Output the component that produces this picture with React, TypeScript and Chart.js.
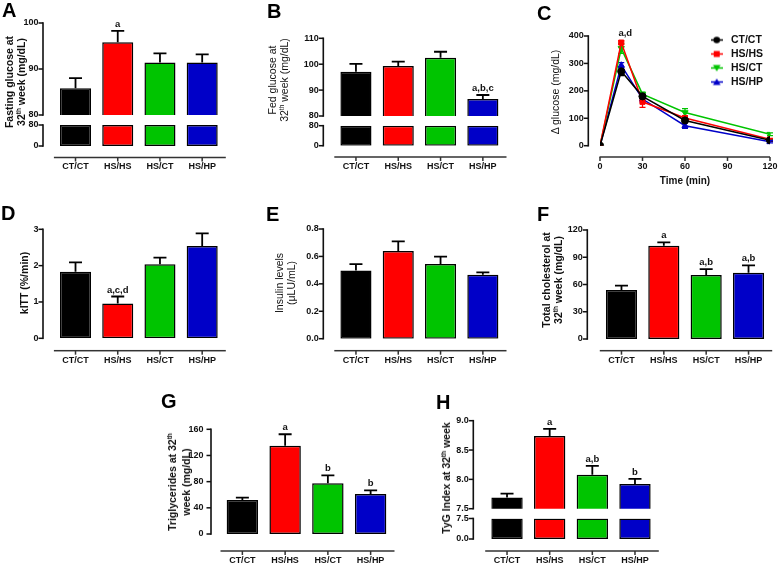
import React, { useEffect, useRef } from 'react';
import { Chart, registerables } from 'chart.js';

Chart.register(...registerables);

const FONT = '"Liberation Sans", Arial, Helvetica, sans-serif';
const INK = '#111111';

// ---------- data ----------
const categories = ['CT/CT', 'HS/HS', 'HS/CT', 'HS/HP'];
const groupColors = ['#000000', '#ff0000', '#00c400', '#0000c8'];

// A – fasting glucose
const fastingGlucose = [85.8, 95.8, 91.4, 91.4];
const fastingGlucoseSem = [2.2, 2.5, 2.0, 1.8];
const fastingGlucoseSig = ['', 'a', '', ''];
const fastingBrokenTicks = [0, 80];

// B – fed glucose
const fedGlucose = [97.1, 99.3, 102.5, 86.6];
const fedGlucoseSem = [3.0, 1.7, 2.3, 1.5];
const fedGlucoseSig = ['', '', '', 'a,b,c'];
const fedBrokenTicks = [0, 80];

// C – glucose tolerance curve
const ogttTimes = [0, 15, 30, 60, 120];
const ogttCTCT = [0, 271, 180, 92, 20];
const ogttCTCTSem = [0, 15, 8, 8, 4];
const ogttHSHS = [0, 376, 160, 101, 23];
const ogttHSHSSem = [0, 6, 20, 8, 4];
const ogttHSCT = [0, 355, 188, 121, 42];
const ogttHSCTSem = [0, 18, 7, 14, 5];
const ogttHSHP = [0, 293, 170, 73, 14];
const ogttHSHPSem = [0, 10, 10, 10, 4];
const ogttSig = 'a,d';

// D – kITT
const kitt = [1.83, 0.96, 2.04, 2.54];
const kittSem = [0.26, 0.19, 0.18, 0.35];
const kittSig = ['', 'a,c,d', '', ''];

// E – insulin
const insulin = [0.498, 0.639, 0.544, 0.466];
const insulinSem = [0.046, 0.071, 0.054, 0.017];
const insulinSig = ['', '', '', ''];

// F – total cholesterol
const cholesterol = [53.9, 102.7, 70.5, 73.0];
const cholesterolSem = [4.8, 3.7, 6.5, 8.0];
const cholesterolSig = ['', 'a', 'a,b', 'a,b'];

// G – triglycerides
const triglycerides = [52, 135, 77.5, 61];
const triglyceridesSem = [3.5, 17.4, 12.2, 5.8];
const triglyceridesSig = ['', 'a', 'b', 'b'];

// H – TyG index
const tyg = [7.69, 8.74, 8.08, 7.92];
const tygSem = [0.066, 0.12, 0.15, 0.09];
const tygSig = ['', 'a', 'a,b', 'b'];
const tygBrokenTicks = [0, 7.5];

// ---------- geometry ----------
const W = 50; // fixed y-axis box width
const T = 26; // top padding
const R = 26; // right padding
const X_H = 32; // x axis box height
const NOX_B = 26; // bottom padding when no x axis

type Area = { l: number; t: number; r: number; b: number };

function layoutFor(area: Area, xH: number, bPad: number) {
  const left = Math.floor(area.l - W);
  const top = Math.floor(area.t - T);
  const right = Math.ceil(area.r + R);
  const bottom = Math.ceil(area.b + xH + bPad);
  return {
    left,
    top,
    width: right - left,
    height: bottom - top,
    padding: {
      left: area.l - W - left,
      top: area.t - top,
      right: right - area.r,
      bottom: bottom - area.b - xH,
    },
  };
}

// ---------- plugin factory: Prism-style axes, error bars, letters ----------
type PrismSettings = {
  yGap: number;
  xGap?: number;
  xLine?: boolean;
  xExtend?: number;
  errors?: number[];
  sig?: string[];
  lineErrors?: number[][];
  notes?: { x: number; y: number; text: string; dx?: number }[];
  legendAt?: { dx: number; dy: number };
};

function makePrism(s: PrismSettings): any {
  return {
    id: 'prism',
    afterLayout(chart: any) {
      if (s.legendAt && chart.legend) {
        const lg = chart.legend;
        const ca = chart.chartArea;
        const w = lg.width;
        const h = lg.height;
        lg.left = ca.left + s.legendAt.dx;
        lg.right = lg.left + w;
        lg.top = ca.top + s.legendAt.dy;
        lg.bottom = lg.top + h;
      }
    },
    beforeDatasetsDraw(chart: any) {
      if (!s.lineErrors) return;
      const { ctx } = chart;
      const y = chart.scales.y;
      ctx.save();
      chart.data.datasets.forEach((ds: any, di: number) => {
        const meta = chart.getDatasetMeta(di);
        const errs = (s.lineErrors as number[][])[di];
        ctx.strokeStyle = ds.borderColor;
        ctx.lineWidth = 1.3;
        meta.data.forEach((pt: any, j: number) => {
          const e = errs[j];
          if (!e) return;
          const v = ds.data[j].y;
          const p1 = y.getPixelForValue(v + e);
          const p2 = y.getPixelForValue(v - e);
          ctx.beginPath();
          ctx.moveTo(pt.x, p1);
          ctx.lineTo(pt.x, p2);
          ctx.moveTo(pt.x - 3, p1);
          ctx.lineTo(pt.x + 3, p1);
          ctx.moveTo(pt.x - 3, p2);
          ctx.lineTo(pt.x + 3, p2);
          ctx.stroke();
        });
      });
      ctx.restore();
    },
    afterDraw(chart: any) {
      const { ctx, chartArea: ca } = chart;
      const x = chart.scales.x;
      const y = chart.scales.y;
      ctx.save();

      // y axis line + tick marks, offset left of the plot
      const ax = ca.left - s.yGap;
      ctx.fillStyle = '#111';
      ctx.fillRect(ax - 0.8, ca.top - 0.8, 1.6, ca.bottom - ca.top + 1.6);
      y.ticks.forEach((t: any) => {
        const py = y.getPixelForValue(t.value);
        ctx.fillRect(ax - 4.5, py - 0.75, 4.5, 1.5);
      });

      // detached x axis line + tick marks
      if (s.xLine) {
        const ly = ca.bottom + (s.xGap ?? 12);
        ctx.fillStyle = '#333';
        const x0 = ca.left - 0.5;
        const x1 = ca.right + (s.xExtend ?? 2.5);
        ctx.fillRect(x0, ly - 0.75, x1 - x0, 1.5);
        x.ticks.forEach((_t: any, i: number) => {
          const px = x.getPixelForTick(i);
          ctx.fillRect(px - 0.75, ly, 1.5, 4);
        });
      }

      ctx.font = `bold 9.5px ${FONT}`;
      ctx.fillStyle = INK;
      ctx.textAlign = 'center';
      ctx.textBaseline = 'alphabetic';

      if (s.errors) {
        const vals = chart.data.datasets[0].data as number[];
        const errs = s.errors;
        ctx.strokeStyle = '#000';
        ctx.lineWidth = 1.8;
        vals.forEach((v: number, i: number) => {
          const e = errs[i];
          const px = x.getPixelForValue(i);
          const p0 = y.getPixelForValue(v);
          const p1 = y.getPixelForValue(v + e);
          ctx.beginPath();
          ctx.moveTo(px, p0);
          ctx.lineTo(px, p1);
          ctx.moveTo(px - 6.5, p1);
          ctx.lineTo(px + 6.5, p1);
          ctx.stroke();
          const lab = s.sig && s.sig[i];
          if (lab) ctx.fillText(lab, px, p1 - 4);
        });
      }
      if (s.notes) {
        s.notes.forEach((n) => {
          ctx.fillText(n.text, x.getPixelForValue(n.x) + (n.dx || 0), y.getPixelForValue(n.y) - 5);
        });
      }
      ctx.restore();
    },
  };
}

// ---------- bar panels ----------
type BarPanel = {
  key: string;
  area: Area;
  values: number[];
  errors?: number[];
  sig?: string[];
  yMin: number;
  yMax: number;
  step?: number;
  ticksAt?: number[];
  decimals?: number;
  showX: boolean;
  yGap: number;
  labelGap?: number;
  xGap?: number;
  labelPad?: number;
  clampTop?: boolean;
};

const barPanels: BarPanel[] = [
  // A
  { key: 'A1', area: { l: 54.4, t: 23, r: 223.3, b: 115 }, values: fastingGlucose, errors: fastingGlucoseSem, sig: fastingGlucoseSig, yMin: 80, yMax: 100, step: 10, showX: false, yGap: 11.4 },
  { key: 'A2', area: { l: 54.4, t: 125, r: 223.3, b: 146 }, values: fastingGlucose, yMin: 0, yMax: 80, ticksAt: fastingBrokenTicks, showX: true, yGap: 11.4, xGap: 11.5, labelPad: 15.6, clampTop: true },
  // B
  { key: 'B1', area: { l: 334.8, t: 38.3, r: 504, b: 116 }, values: fedGlucose, errors: fedGlucoseSem, sig: fedGlucoseSig, yMin: 80, yMax: 110, step: 10, showX: false, yGap: 11.5 },
  { key: 'B2', area: { l: 334.8, t: 125.7, r: 504, b: 145.7 }, values: fedGlucose, yMin: 0, yMax: 80, ticksAt: fedBrokenTicks, showX: true, yGap: 11.5, xGap: 11.3, labelPad: 15.8, clampTop: true },
  // D
  { key: 'D', area: { l: 54.4, t: 229.3, r: 223.3, b: 338.3 }, values: kitt, errors: kittSem, sig: kittSig, yMin: 0, yMax: 3, step: 1, showX: true, yGap: 11.4, xGap: 12.4, labelPad: 16.5 },
  // E
  { key: 'E', area: { l: 334.8, t: 229, r: 504, b: 338.7 }, values: insulin, errors: insulinSem, sig: insulinSig, yMin: 0, yMax: 0.8, step: 0.2, decimals: 1, showX: true, yGap: 11.5, xGap: 12, labelPad: 16.2 },
  // F
  { key: 'F', area: { l: 600.3, t: 230, r: 769.7, b: 339 }, values: cholesterol, errors: cholesterolSem, sig: cholesterolSig, yMin: 0, yMax: 120, step: 30, showX: true, yGap: 13, xGap: 11.7, labelPad: 16 },
  // G
  { key: 'G', area: { l: 221, t: 429.3, r: 392, b: 534 }, values: triglycerides, errors: triglyceridesSem, sig: triglyceridesSig, yMin: 0, yMax: 160, step: 40, showX: true, yGap: 10, labelGap: 7.5, xGap: 17, labelPad: 21.6 },
  // H
  { key: 'H1', area: { l: 485.7, t: 420.7, r: 656.3, b: 508.7 }, values: tyg, errors: tygSem, sig: tygSig, yMin: 7.5, yMax: 9, step: 0.5, decimals: 1, showX: false, yGap: 12.4 },
  { key: 'H2', area: { l: 485.7, t: 518.5, r: 656.3, b: 539 }, values: tyg, yMin: 0, yMax: 7.5, ticksAt: tygBrokenTicks, decimals: 1, showX: true, yGap: 12.4, xGap: 12, labelPad: 16.6, clampTop: true },
];

const tickFont = { family: FONT, size: 9, weight: 'bold' as const };
const noGrid = { display: false, drawTicks: false, tickLength: 0 };

function barLayout(p: BarPanel) {
  return layoutFor(p.area, p.showX ? X_H : 0, p.showX ? 2 : NOX_B);
}

function barConfig(p: BarPanel): any {
  const lay = barLayout(p);
  const xH = p.showX ? X_H : 0;
  const data = p.clampTop ? p.values.map((v) => Math.min(v, p.yMax)) : p.values;
  const yScale: any = {
    min: p.yMin,
    max: p.yMax,
    grid: noGrid,
    border: { display: false },
    ticks: {
      stepSize: p.step,
      font: tickFont,
      color: INK,
      padding: p.yGap + (p.labelGap ?? 4.5),
      callback: (v: any) => (p.decimals != null ? Number(v).toFixed(p.decimals) : String(v)),
    },
    afterFit: (s: any) => {
      s.width = W;
    },
  };
  if (p.ticksAt) {
    const at = p.ticksAt;
    yScale.afterBuildTicks = (s: any) => {
      s.ticks = at.map((v) => ({ value: v }));
    };
  }
  return {
    type: 'bar',
    data: {
      labels: categories,
      datasets: [
        {
          data,
          backgroundColor: groupColors,
          borderColor: '#000',
          borderWidth: 1.5,
          borderSkipped: false,
          barPercentage: 0.735,
          categoryPercentage: 1,
        },
      ],
    },
    options: {
      responsive: false,
      animation: false,
      events: [],
      layout: { padding: lay.padding },
      plugins: {
        legend: { display: false },
        tooltip: { enabled: false },
      },
      scales: {
        x: {
          display: p.showX,
          offset: true,
          grid: noGrid,
          border: { display: false },
          ticks: { font: tickFont, color: INK, padding: p.labelPad ?? 16, maxRotation: 0, autoSkip: false },
          afterFit: (s: any) => {
            s.height = xH;
          },
        },
        y: yScale,
      },
    },
    plugins: [
      makePrism({
        yGap: p.yGap,
        xGap: p.xGap,
        xLine: p.showX,
        errors: p.errors,
        sig: p.sig,
      }),
    ],
  };
}

// ---------- line panel C ----------
const lineArea: Area = { l: 600, t: 36, r: 770, b: 145.7 };
const LINE_XH = 41.3;
const lineLayout = layoutFor(lineArea, LINE_XH, 2);

const lineSeries = [
  { label: 'CT/CT', values: ogttCTCT, sem: ogttCTCTSem, color: groupColors[0], style: 'circle', rot: 0 },
  { label: 'HS/HS', values: ogttHSHS, sem: ogttHSHSSem, color: groupColors[1], style: 'rect', rot: 0 },
  { label: 'HS/CT', values: ogttHSCT, sem: ogttHSCTSem, color: groupColors[2], style: 'triangle', rot: 180 },
  { label: 'HS/HP', values: ogttHSHP, sem: ogttHSHPSem, color: groupColors[3], style: 'triangle', rot: 0 },
];

function makeIcon(color: string, style: string, rot: number) {
  const c = document.createElement('canvas');
  c.width = 12;
  c.height = 9;
  const g = c.getContext('2d') as CanvasRenderingContext2D;
  g.strokeStyle = color;
  g.lineWidth = 1.5;
  g.beginPath();
  g.moveTo(0, 4.5);
  g.lineTo(12, 4.5);
  g.stroke();
  g.fillStyle = color;
  const cx = 6;
  const cy = 4.5;
  g.beginPath();
  if (style === 'circle') {
    g.arc(cx, cy, 3.3, 0, Math.PI * 2);
  } else if (style === 'rect') {
    g.rect(cx - 3, cy - 3, 6, 6);
  } else if (rot === 180) {
    g.moveTo(cx - 3.8, cy - 3);
    g.lineTo(cx + 3.8, cy - 3);
    g.lineTo(cx, cy + 3.5);
    g.closePath();
  } else {
    g.moveTo(cx - 3.8, cy + 3);
    g.lineTo(cx + 3.8, cy + 3);
    g.lineTo(cx, cy - 3.5);
    g.closePath();
  }
  g.fill();
  return c;
}

function lineConfig(): any {
  const icons = lineSeries.map((s) => makeIcon(s.color, s.style, s.rot));
  return {
    type: 'line',
    data: {
      datasets: lineSeries.map((s) => ({
        label: s.label,
        data: s.values.map((v, i) => ({ x: ogttTimes[i], y: v })),
        borderColor: s.color,
        backgroundColor: s.color,
        borderWidth: 1.5,
        pointStyle: s.style,
        pointRotation: s.rot,
        pointRadius: 3.6,
        pointBorderWidth: 1,
        tension: 0,
      })),
    },
    options: {
      responsive: false,
      animation: false,
      events: [],
      layout: { padding: lineLayout.padding },
      plugins: {
        tooltip: { enabled: false },
        legend: {
          display: true,
          position: 'chartArea',
          align: 'start',
          labels: {
            usePointStyle: true,
            pointStyleWidth: 18,
            boxHeight: 11,
            padding: 3.5,
            color: INK,
            font: { family: FONT, size: 10.5, weight: 'bold' },
            generateLabels: (chart: any) =>
              chart.data.datasets.map((ds: any, i: number) => ({
                text: ds.label,
                pointStyle: icons[i],
                fillStyle: ds.borderColor,
                strokeStyle: ds.borderColor,
                lineWidth: 0,
                hidden: false,
                datasetIndex: i,
                fontColor: INK,
              })),
          },
        },
      },
      scales: {
        x: {
          type: 'linear',
          min: 0,
          max: 120,
          grid: noGrid,
          border: { display: false },
          ticks: { stepSize: 30, font: tickFont, color: INK, padding: 15.9, maxRotation: 0 },
          title: { display: true, text: 'Time (min)', color: INK, font: { family: FONT, size: 10, weight: 'bold' }, padding: 0 },
          afterFit: (s: any) => {
            s.height = LINE_XH;
          },
        },
        y: {
          min: 0,
          max: 400,
          grid: noGrid,
          border: { display: false },
          ticks: { stepSize: 100, font: tickFont, color: INK, padding: 11.7 + 4.5 },
          afterFit: (s: any) => {
            s.width = W;
          },
        },
      },
    },
    plugins: [
      makePrism({
        yGap: 11.7,
        xGap: 11.3,
        xLine: true,
        xExtend: 0,
        lineErrors: lineSeries.map((s) => s.sem),
        notes: [{ x: ogttTimes[1], y: ogttHSHS[1] + ogttHSHSSem[1], text: ogttSig, dx: 4 }],
        legendAt: { dx: 104.2, dy: -4.75 },
      }),
    ],
  };
}

// ---------- components ----------
function ChartCanvas({ lay, make }: { lay: any; make: () => any }) {
  const ref = useRef<HTMLCanvasElement>(null);
  useEffect(() => {
    const chart = new Chart(ref.current as HTMLCanvasElement, make());
    return () => chart.destroy();
  }, []);
  return (
    <canvas
      ref={ref}
      width={lay.width}
      height={lay.height}
      style={{ position: 'absolute', left: lay.left, top: lay.top, width: lay.width, height: lay.height }}
    />
  );
}

const Th = () => (
  <span style={{ fontSize: '0.62em', position: 'relative', top: '-0.55em' }}>th</span>
);

function VTitle({ cx, cy, bold, children }: { cx: number; cy: number; bold: boolean; children: React.ReactNode }) {
  return (
    <div
      style={{
        position: 'absolute',
        left: cx,
        top: cy,
        transform: 'translate(-50%, -50%) rotate(-90deg)',
        whiteSpace: 'nowrap',
        textAlign: 'center',
        fontFamily: FONT,
        fontWeight: bold ? 'bold' : 'normal',
        fontSize: '10.5px',
        lineHeight: '12px',
        color: INK,
        pointerEvents: 'none',
      }}
    >
      {children}
    </div>
  );
}

const panelLetters = [
  { ch: 'A', x: 2, y: 0 },
  { ch: 'B', x: 267, y: 1 },
  { ch: 'C', x: 537, y: 2.5 },
  { ch: 'D', x: 1, y: 202.5 },
  { ch: 'E', x: 266, y: 204 },
  { ch: 'F', x: 537, y: 204 },
  { ch: 'G', x: 161, y: 390.5 },
  { ch: 'H', x: 436, y: 392 },
];

export default function App() {
  return (
    <div style={{ position: 'absolute', left: 0, top: 0, width: 778, height: 565, background: '#fff', overflow: 'hidden' }}>
      {barPanels.map((p) => (
        <ChartCanvas key={p.key} lay={barLayout(p)} make={() => barConfig(p)} />
      ))}
      <ChartCanvas lay={lineLayout} make={lineConfig} />

      {panelLetters.map((l) => (
        <div
          key={l.ch}
          style={{ position: 'absolute', left: l.x, top: l.y, fontFamily: FONT, fontWeight: 'bold', fontSize: '20px', lineHeight: '20px', color: '#000' }}
        >
          {l.ch}
        </div>
      ))}

      <VTitle cx={16} cy={82} bold>
        <div>Fasting glucose at</div>
        <div>32<Th /> week (mg/dL)</div>
      </VTitle>
      <VTitle cx={278.5} cy={80} bold={false}>
        <div>Fed glucose at</div>
        <div>32<Th /> week (mg/dL)</div>
      </VTitle>
      <VTitle cx={555} cy={92} bold={false}>
        <div>Δ glucose (mg/dL)</div>
      </VTitle>
      <VTitle cx={24} cy={283} bold>
        <div>kITT (%/min)</div>
      </VTitle>
      <VTitle cx={285} cy={283} bold={false}>
        <div>Insulin levels</div>
        <div>(μLU/mL)</div>
      </VTitle>
      <VTitle cx={553} cy={280} bold>
        <div>Total cholesterol at</div>
        <div>32<Th /> week (mg/dL)</div>
      </VTitle>
      <VTitle cx={179} cy={482} bold>
        <div>Triglycerides at 32<Th /></div>
        <div>week (mg/dL)</div>
      </VTitle>
      <VTitle cx={447} cy={478} bold>
        <div>TyG Index at 32<Th /> week</div>
      </VTitle>
    </div>
  );
}
